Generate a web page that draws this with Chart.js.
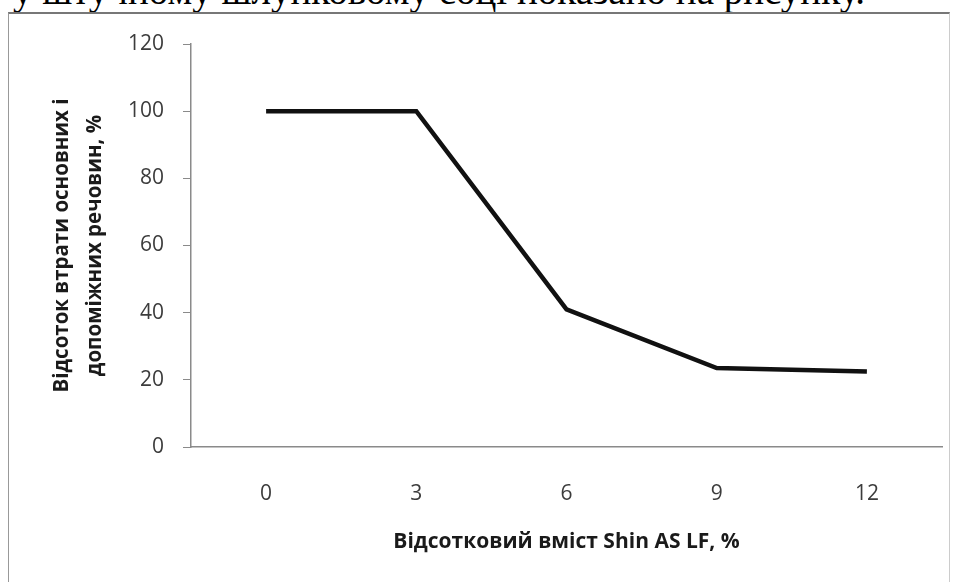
<!DOCTYPE html>
<html>
<head>
<meta charset="utf-8">
<script src="https://cdn.jsdelivr.net/npm/chart.js@4.4.0/dist/chart.umd.min.js"></script>
<style>
  html, body { margin: 0; padding: 0; background: #fff; }
  body { width: 955px; height: 582px; position: relative; overflow: hidden; }
  #topText {
    position: absolute; right: 90px; top: -29px;
    font-family: "Liberation Serif", serif; font-size: 39px; line-height: 39px;
    white-space: nowrap; color: #000;
  }
  #box {
    position: absolute; left: 8px; top: 12px; width: 940px; height: 600px;
    border-top: 2px solid #777; border-left: 1px solid #999; border-right: 1px solid #ccc;
  }
  #wrap { position: absolute; left: 0; top: 0; width: 955px; height: 582px; }
</style>
</head>
<body>
<div id="topText">у штучному шлунковому соці показано на рисунку.</div>
<div id="box"></div>
<div id="wrap"><canvas id="canvasDiv" width="955" height="582"></canvas></div>
<script>
const canvasDiv = document.getElementById("canvasDiv");

// data
var contents = ["0", "3", "6", "9", "12"];
var losses = [100, 100, 41, 23.5, 22.5];
var yTicks = [0, 20, 40, 60, 80, 100, 120];

var chart = new Chart(canvasDiv, {
  type: "line",
  data: {
    labels: contents,
    datasets: [
      {
        label: "Відсоток втрати",
        data: losses,
        borderColor: "#111",
        borderWidth: 4.5,
        borderCapStyle: "butt",
        pointRadius: 0,
        tension: 0,
        fill: false,
      },
    ],
  },
  options: {
    responsive: false,
    animation: false,
    layout: { padding: { left: 0, right: 13, top: 44, bottom: 27 } },
    plugins: { legend: { display: false }, tooltip: { enabled: false } },
    scales: {
      x: {
        offset: true,
        grid: { display: false },
        border: { display: true, color: "#8a8a8a", width: 1.5 },
        ticks: {
          padding: 26,
          color: "#3c3c3c",
          font: { family: "Open Sans", size: 21 },
        },
        title: {
          display: true,
          text: "Відсотковий вміст Shin AS LF, %",
          color: "#1a1a1a",
          padding: { top: 0, bottom: 0 },
          font: { family: "Open Sans", size: 21, weight: "bold" },
        },
        afterFit: function (scale) {
          scale.height = 108;
        },
      },
      y: {
        min: 0,
        max: 120,
        afterBuildTicks: function (scale) {
          scale.ticks = yTicks.map(function (v) { return { value: v }; });
        },
        grid: {
          drawOnChartArea: false,
          drawTicks: true,
          tickLength: 8,
          tickColor: "#8a8a8a",
        },
        border: { display: true, color: "#8a8a8a", width: 1.5 },
        ticks: {
          padding: 19,
          color: "#3c3c3c",
          font: { family: "Open Sans", size: 21 },
        },
        title: {
          display: true,
          text: ["Відсоток втрати основних і", "допоміжних речовин, %"],
          color: "#1a1a1a",
          padding: { top: 46, bottom: 0 },
          font: { family: "Open Sans", size: 20.5, weight: "bold", lineHeight: 1.6 },
        },
        afterFit: function (scale) {
          scale.width = 191;
        },
      },
    },
  },
});
</script>
</body>
</html>
